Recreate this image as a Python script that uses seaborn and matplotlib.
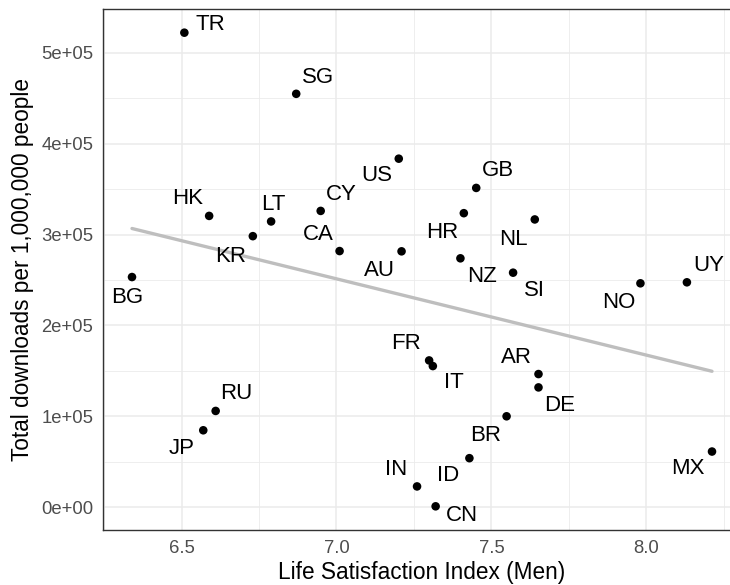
import matplotlib
matplotlib.use("Agg")
import matplotlib.pyplot as plt
from matplotlib.ticker import FixedLocator, FuncFormatter
import seaborn as sns
import pandas as pd

countries = ["TR", "SG", "US", "GB", "HK", "CY", "LT", "NL", "KR", "HR",
             "CA", "AU", "NZ", "SI", "BG", "NO", "UY", "FR", "IT", "AR",
             "DE", "RU", "BR", "JP", "ID", "MX", "IN", "CN"]
life_satisfaction_men = [6.509, 6.870, 7.201, 7.451, 6.589, 6.949, 6.789, 7.640, 6.730, 7.411,
                         7.010, 7.210, 7.400, 7.570, 6.340, 7.981, 8.131, 7.299, 7.311, 7.652,
                         7.652, 6.610, 7.549, 6.570, 7.429, 8.212, 7.260, 7.320]
downloads_per_million = [522200, 454900, 383500, 351300, 320500, 326000, 314400, 316600, 298200, 323500,
                         281800, 281500, 273800, 258000, 253200, 246300, 247400, 161400, 155200, 146400,
                         131700, 105800, 99900, 84500, 53800, 61100, 22700, 800]

x_ticks = [6.5, 7.0, 7.5, 8.0]
y_ticks = [0, 100000, 200000, 300000, 400000, 500000]

# label placement around each point, in pixels (dx, dy)
label_offsets = {
    "TR": (26, 8), "SG": (22, 16), "US": (-22, -17), "GB": (22, 17),
    "HK": (-22, 17), "CY": (21, 16), "LT": (2, 17), "NL": (-21, -20),
    "KR": (-22, -20), "HR": (-22, -19), "CA": (-21, 17), "AU": (-22, -19),
    "NZ": (22, -18), "SI": (21, -18), "BG": (-5, -20), "NO": (-22, -19),
    "UY": (22, 17), "FR": (-23, 17), "IT": (21, -16), "AR": (-22, 17),
    "DE": (21, -18), "RU": (21, 17), "BR": (-21, -19), "JP": (-22, -18),
    "ID": (-21, -17), "MX": (-24, -17), "IN": (-21, 17), "CN": (26, -9),
}

df = pd.DataFrame({
    "country": countries,
    "life": life_satisfaction_men,
    "downloads": downloads_per_million,
})

sns.set_theme(style="white")
plt.rcParams["font.family"] = ["Liberation Sans", "DejaVu Sans"]

W, H = 730, 585
fig = plt.figure(figsize=(W / 100, H / 100), dpi=100)
ax = fig.add_axes([103 / W, 55 / H, (741 - 103) / W, (530 - 9) / H])
ax.set_facecolor("white")

sns.regplot(data=df, x="life", y="downloads", scatter=False, ci=None, ax=ax,
            line_kws=dict(color="#BEBEBE", lw=2.4, zorder=2))
sns.scatterplot(data=df, x="life", y="downloads", ax=ax, color="black",
                s=38, edgecolor="none", zorder=3)

for name, xv, yv in zip(countries, life_satisfaction_men, downloads_per_million):
    dx, dy = label_offsets[name]
    ax.annotate(name, (xv, yv), xytext=(dx, dy), textcoords="offset pixels",
                ha="center", va="center", fontsize=16, color="black", zorder=4)

xr = max(life_satisfaction_men) - min(life_satisfaction_men)
yr = max(downloads_per_million) - min(downloads_per_million)
ax.set_xlim(min(life_satisfaction_men) - 0.05 * xr, max(life_satisfaction_men) + 0.05 * xr)
ax.set_ylim(min(downloads_per_million) - 0.05 * yr, max(downloads_per_million) + 0.05 * yr)

ax.xaxis.set_major_locator(FixedLocator(x_ticks))
ax.yaxis.set_major_locator(FixedLocator(y_ticks))
ax.xaxis.set_minor_locator(FixedLocator([6.25, 6.75, 7.25, 7.75, 8.25]))
ax.yaxis.set_minor_locator(FixedLocator([50000, 150000, 250000, 350000, 450000, 550000]))
ax.xaxis.set_major_formatter(FuncFormatter(lambda v, p: f"{v:.1f}"))


def sci(v, p):
    if v == 0:
        return "0e+00"
    return f"{v:.0e}"


ax.yaxis.set_major_formatter(FuncFormatter(sci))

ax.grid(which="major", color="#EBEBEB", lw=1.1, zorder=0)
ax.grid(which="minor", color="#EBEBEB", lw=0.6, zorder=0)
ax.set_axisbelow(True)

ax.tick_params(axis="both", which="major", length=4, width=1.0, color="#333333",
               labelsize=13.3, labelcolor="#4D4D4D", pad=3, direction="out")
ax.tick_params(axis="both", which="minor", length=0)
for sp in ax.spines.values():
    sp.set_color("#333333")
    sp.set_linewidth(1.0)
    sp.set_visible(True)

ax.set_xlabel("Life Satisfaction Index (Men)", fontsize=16.3, color="black", labelpad=3)
ax.set_ylabel("Total downloads per 1,000,000 people", fontsize=16.3, color="black", labelpad=5)

fig.savefig("out.png", dpi=100)
